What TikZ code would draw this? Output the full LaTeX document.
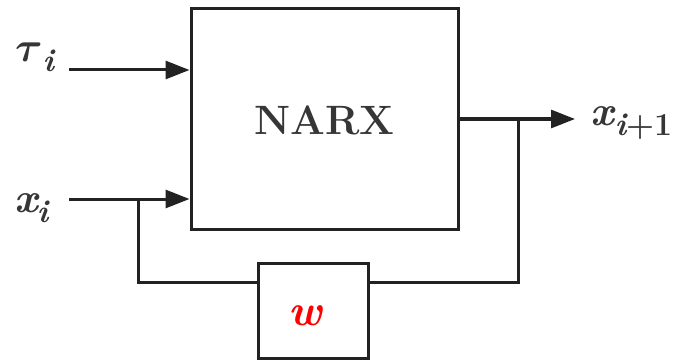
\documentclass[tikz,border=0pt]{standalone}
\usepackage{graphicx}
\usepackage{bm}
\usetikzlibrary{arrows.meta}
\definecolor{ink}{HTML}{222222}
\definecolor{txtgray}{HTML}{363636}
\definecolor{wred}{HTML}{FF0000}
\tikzset{
  blockbox/.style={draw=ink, line width=3pt, fill=white, inner sep=0pt},
  wire/.style={draw=ink, line width=3pt},
  arrowwire/.style={wire, -{Triangle[length=24pt,width=18pt]}},
  lbl/.style={anchor=base west, inner sep=0pt, text=txtgray, font=\bfseries\itshape\fontsize{42}{42}\selectfont},
}
\newcommand{\subtxt}[1]{\raisebox{-10pt}{\fontsize{32}{32}\selectfont #1}}
\newcommand{\bigtau}{{\fontsize{10}{12}\selectfont\scalebox{4.2}{$\bm{\tau}$}}}
\begin{document}
\begin{tikzpicture}[x=1pt,y=-1pt]
\useasboundingbox (0,0) rectangle (678,361);
\node[blockbox, minimum width=267pt, minimum height=220pt] (narx) at (324.5,119) {};
\node[text=txtgray, font=\fontsize{41}{41}\selectfont\bfseries] at (324.5,120) {\bfseries NARX};
\node[blockbox, minimum width=110pt, minimum height=95pt] (w) at (313,310.5) {};
\node[text=wred, font=\bfseries\itshape\fontsize{44}{44}\selectfont, anchor=base, inner sep=0pt] (wl) at (305,325) {w};
\node[lbl] (tau) at (15,62) {\bigtau\kern0pt\subtxt{i}};
\node[lbl] (xi) at (14,212) {x\kern-1pt\subtxt{i}};
\node[lbl] (xo) at (590,125) {x\kern1pt\subtxt{i\upshape +1}};
\coordinate (tauS) at (69,70);
\coordinate (xiS) at (69,199);
\coordinate (junL) at (138,199);
\coordinate (junR) at (518,119);
\coordinate (tip) at (575,119);
\draw[arrowwire] (tauS) -- (tauS -| narx.west);
\draw[arrowwire] (xiS) -- (xiS -| narx.west);
\draw[arrowwire] (junR -| narx.east) -- (tip);
\draw[wire] (junR) |- (w.east |- 0,282);
\draw[wire] (w.west |- 0,282) -| (junL);
\end{tikzpicture}
\end{document}
